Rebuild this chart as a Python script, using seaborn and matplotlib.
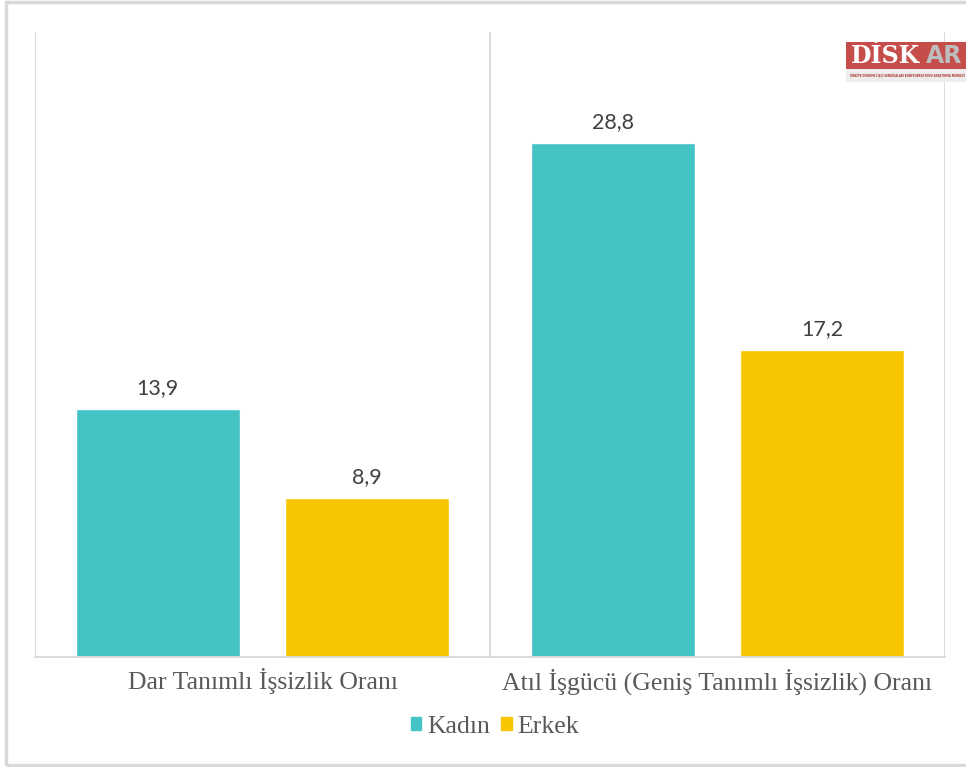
import matplotlib
matplotlib.use("Agg")
import matplotlib.pyplot as plt
from matplotlib.patches import Rectangle
import seaborn as sns
import pandas as pd

# Veriler
kategoriler = ["Dar Tanımlı İşsizlik Oranı", "Atıl İşgücü (Geniş Tanımlı İşsizlik) Oranı"]
cinsiyetler = ["Kadın", "Erkek"]
kadin = [13.9, 28.8]
erkek = [8.9, 17.2]
renkler = ["#43C3C4", "#F8C600"]

df = pd.DataFrame({
    "kategori": kategoriler * 2,
    "cinsiyet": [cinsiyetler[0]] * len(kadin) + [cinsiyetler[1]] * len(erkek),
    "oran": kadin + erkek,
})

sns.set_theme(style="white")
gri = "#595959"
cizgi = "#D9D9D9"

fig = plt.figure(figsize=(9.66, 7.67), dpi=100)
ax = fig.add_axes([35 / 966, 110 / 767, 910 / 966, 625 / 767])

sns.barplot(
    data=df, x="kategori", y="oran", hue="cinsiyet",
    palette=renkler, width=0.92, gap=0.217, ax=ax, legend=False,
    saturation=1,
)

ax.set_ylim(0, 35)
ax.set_xlim(-0.5, len(kategoriler) - 0.5)
ax.set_xlabel("")
ax.set_ylabel("")
ax.set_yticks([])

# dikey ayraç çizgileri
ax.set_xticks([i - 0.5 for i in range(len(kategoriler) + 1)], minor=True)
ax.grid(True, which="minor", axis="x", color=cizgi, linewidth=1.3)
ax.tick_params(axis="x", which="both", length=0, pad=8)
for lbl in ax.get_xticklabels():
    lbl.set_fontfamily("Liberation Serif")
    lbl.set_fontsize(18.5)
    lbl.set_color(gri)

for s in ["top", "right", "left"]:
    ax.spines[s].set_visible(False)
ax.spines["bottom"].set_color(cizgi)
ax.spines["bottom"].set_linewidth(1.3)

for cont in ax.containers:
    ax.bar_label(
        cont, labels=[f"{v:.1f}".replace(".", ",") for v in cont.datavalues],
        padding=8, fontsize=15.5, color="#404040", fontfamily="Lato",
    )

# lejant
handles = [Rectangle((0, 0), 1, 1, color=c) for c in renkler]
fig.legend(
    handles, cinsiyetler, loc="center", bbox_to_anchor=(495 / 966, 1 - 727 / 767),
    ncol=2, frameon=False, handlelength=0.4, handleheight=0.4, handletextpad=0.22,
    columnspacing=0.45, prop={"family": "Liberation Serif", "size": 18.5},
    labelcolor=gri,
)

# çerçeve
fig.patches.append(Rectangle((6 / 966, 2 / 767), 1.0, 763 / 767, transform=fig.transFigure,
                             fill=False, edgecolor=cizgi, linewidth=2.5))

# DİSKAR logosu
fig.patches.append(Rectangle((846 / 966, 1 - 69 / 767), 0.2, 27 / 767, transform=fig.transFigure,
                             facecolor="#C54E4B", edgecolor="none", zorder=5))
fig.patches.append(Rectangle((846 / 966, 1 - 82 / 767), 0.2, 13 / 767, transform=fig.transFigure,
                             facecolor="#EDEDED", edgecolor="none", zorder=5))
fig.text(851 / 966, 1 - 56 / 767, "DİSK", color="white", fontsize=17, fontweight="bold",
         fontfamily="DejaVu Serif", va="center", ha="left", zorder=6)
fig.text(926 / 966, 1 - 56 / 767, "AR", color="#BDBDBD", fontsize=17, fontweight="bold",
         fontfamily="DejaVu Sans", va="center", ha="left", zorder=6)
fig.text(849 / 966, 1 - 76 / 767, "TÜRKİYE DEVRİMCİ İŞÇİ SENDİKALARI KONFEDERASYONU ARAŞTIRMA MERKEZİ",
         color="#B03A36", fontsize=1.9, fontweight="bold", va="center", ha="left", zorder=6)

fig.savefig("out.png", dpi=100)
